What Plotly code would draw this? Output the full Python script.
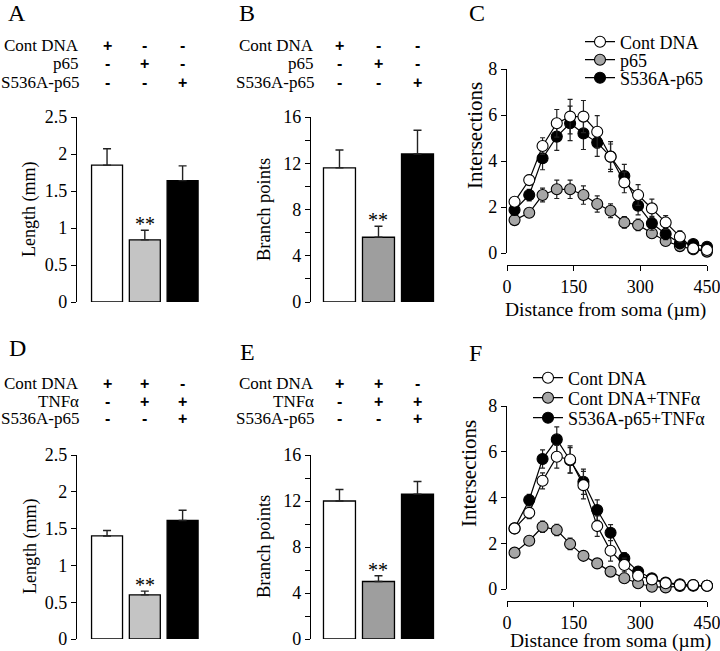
import plotly.graph_objects as go

W, H = 720, 651
SERIF = 'Liberation Serif, Times New Roman, serif'

# bar panels (A, B, D, E)
groups = [0, 1, 2]
length_p65 = [1.85, 0.84, 1.64]
length_p65_err = [0.22, 0.13, 0.20]
branch_p65 = [11.6, 5.6, 12.8]
branch_p65_err = [1.55, 0.95, 2.05]
length_tnf = [1.40, 0.60, 1.61]
length_tnf_err = [0.075, 0.05, 0.14]
branch_tnf = [12.0, 5.0, 12.6]
branch_tnf_err = [1.0, 0.5, 1.1]

# Sholl panels (C, F)
distance = [17, 50, 80, 112, 142, 172, 203, 233, 264, 295, 326, 357, 389, 419, 450]
c_cont = [2.23, 3.17, 4.65, 5.64, 5.93, 5.93, 5.27, 4.19, 3.07, 2.52, 1.94, 1.33, 0.71, 0.20, 0.13]
c_cont_err = [0.17, 0.22, 0.36, 0.6, 0.75, 0.7, 0.7, 0.55, 0.45, 0.45, 0.4, 0.3, 0.25, 0.15, 0.1]
c_p65 = [1.43, 1.75, 2.52, 2.77, 2.77, 2.52, 2.13, 1.84, 1.33, 1.22, 0.86, 0.52, 0.30, 0.16, 0.06]
c_p65_err = [0.1, 0.15, 0.3, 0.4, 0.4, 0.4, 0.35, 0.3, 0.25, 0.25, 0.2, 0.15, 0.1, 0.08, 0.05]
c_s536a = [1.87, 2.52, 4.12, 5.06, 5.64, 5.2, 4.8, 4.19, 3.35, 2.06, 1.29, 0.83, 0.42, 0.39, 0.27]
c_s536a_err = [0.2, 0.25, 0.5, 0.6, 0.75, 0.7, 0.6, 0.65, 0.5, 0.4, 0.3, 0.25, 0.2, 0.15, 0.1]

f_cont = [2.65, 3.33, 4.73, 5.78, 5.66, 4.54, 2.75, 1.67, 1.05, 0.58, 0.42, 0.25, 0.17, 0.17, 0.14]
f_cont_err = [0.1, 0.25, 0.35, 0.5, 0.6, 0.6, 0.45, 0.45, 0.3, 0.2, 0.15, 0.1, 0.08, 0.05, 0.05]
f_tnf = [1.59, 2.11, 2.72, 2.58, 1.97, 1.45, 1.12, 0.76, 0.47, 0.25, 0.10, 0.07, 0.13, 0.14, 0.14]
f_tnf_err = [0.08, 0.1, 0.25, 0.25, 0.25, 0.2, 0.2, 0.15, 0.1, 0.1, 0.05, 0.05, 0.05, 0.05, 0.05]
f_s536a = [2.65, 3.89, 5.68, 6.54, 5.63, 4.69, 3.45, 2.46, 1.34, 0.76, 0.47, 0.28, 0.21, 0.17, 0.14]
f_s536a_err = [0.1, 0.25, 0.4, 0.55, 0.55, 0.55, 0.45, 0.35, 0.25, 0.15, 0.1, 0.08, 0.05, 0.05, 0.05]

top_rows = ['Cont DNA', 'p65', 'S536A-p65']
top_signs = [['+', '-', '-'], ['-', '+', '-'], ['-', '-', '+']]
bottom_rows = ['Cont DNA', 'TNFα', 'S536A-p65']
bottom_signs = [['+', '+', '-'], ['-', '+', '+'], ['-', '-', '+']]


def px(v):
    return v / W


def py(v):
    return 1 - v / H


fig = go.Figure()

bar_panels = [
    ('x', 'y', length_p65, length_p65_err, '#c4c4c4'),
    ('x2', 'y2', branch_p65, branch_p65_err, '#9e9e9e'),
    ('x4', 'y4', length_tnf, length_tnf_err, '#c4c4c4'),
    ('x5', 'y5', branch_tnf, branch_tnf_err, '#9e9e9e'),
]
for xa, ya, vals, err, gray in bar_panels:
    fig.add_trace(go.Bar(
        x=groups, y=vals, width=0.82,
        marker=dict(color=['white', gray, 'black'], line=dict(color='black', width=1.3)),
        error_y=dict(type='data', array=err, arrayminus=[0, 0, 0], symmetric=False,
                     color='#222', thickness=1.4, width=4),
        xaxis=xa, yaxis=ya, showlegend=False
    ))


def sholl(xa, ya, y, err, color, name, legend):
    fig.add_trace(go.Scatter(
        x=distance, y=y, mode='lines+markers', name=name,
        line=dict(color='black', width=1.2),
        marker=dict(size=11, color=color, line=dict(color='black', width=1.1)),
        error_y=dict(type='data', array=err, color='#222', thickness=1.2, width=2.5),
        xaxis=xa, yaxis=ya, legend=legend, cliponaxis=False
    ))


sholl('x3', 'y3', c_p65, c_p65_err, '#a6a6a6', 'p65', 'legend2')
sholl('x3', 'y3', c_s536a, c_s536a_err, 'black', 'S536A-p65', 'legend3')
sholl('x3', 'y3', c_cont, c_cont_err, 'white', 'Cont DNA', 'legend')
sholl('x6', 'y6', f_tnf, f_tnf_err, '#a6a6a6', 'Cont DNA+TNFα', 'legend5')
sholl('x6', 'y6', f_s536a, f_s536a_err, 'black', 'S536A-p65+TNFα', 'legend6')
sholl('x6', 'y6', f_cont, f_cont_err, 'white', 'Cont DNA', 'legend4')

tickfont = dict(family=SERIF, size=18, color='black')
hidden_x = dict(showline=False, showticklabels=False, showgrid=False, zeroline=False,
                ticks='', automargin=False)
yax = dict(showline=True, linecolor='black', linewidth=1.2, ticks='outside', ticklen=5,
           tickcolor='black', tickwidth=1.2, tickfont=tickfont, showgrid=False,
           zeroline=False, automargin=False)

len_ticks = dict(range=[0, 2.5], tickvals=[0, 0.5, 1, 1.5, 2, 2.5],
                 ticktext=['0', '0.5', '1', '1.5', '2', '2.5'])
br_ticks = dict(range=[0, 16], tickvals=list(range(0, 17, 2)),
                ticktext=['0', '', '4', '', '8', '', '12', '', '16'])
int_ticks = dict(range=[0, 8], tickvals=[0, 2, 4, 6, 8])

top_y = [py(302), py(117)]
bot_y = [py(639), py(455)]
col1 = [px(77), px(203)]
col2 = [px(311), px(437)]
col3 = [px(507), px(707)]

xdist = dict(range=[0, 450], tickvals=[0, 150, 300, 450], showline=True, linecolor='black',
             linewidth=1.2, ticks='outside', ticklen=5, tickcolor='black', tickwidth=1.2,
             tickfont=tickfont, showgrid=False, zeroline=False, anchor='free',
             automargin=False, ticklabeloverflow='allow')


def leg(x, y):
    return dict(x=px(x), y=py(y), xanchor='left', yanchor='middle', bgcolor='rgba(0,0,0,0)',
                font=dict(family=SERIF, size=18, color='black'), borderwidth=0, itemwidth=30)


fig.update_layout(
    width=W, height=H, margin=dict(l=0, r=0, t=0, b=0, autoexpand=False),
    paper_bgcolor='white', plot_bgcolor='white',
    font=dict(family=SERIF, size=17, color='black'),
    xaxis=dict(domain=col1, range=[-0.795, 2.54], anchor='y', **hidden_x),
    yaxis=dict(domain=top_y, anchor='x', **len_ticks, **yax),
    xaxis2=dict(domain=col2, range=[-0.73, 2.5], anchor='y2', **hidden_x),
    yaxis2=dict(domain=top_y, anchor='x2', **br_ticks, **yax),
    xaxis3=dict(domain=col3, position=py(265), **xdist),
    yaxis3=dict(domain=[py(253), py(69)], anchor='x3', **int_ticks, **yax),
    xaxis4=dict(domain=col1, range=[-0.795, 2.54], anchor='y4', **hidden_x),
    yaxis4=dict(domain=bot_y, anchor='x4', **len_ticks, **yax),
    xaxis5=dict(domain=col2, range=[-0.73, 2.5], anchor='y5', **hidden_x),
    yaxis5=dict(domain=bot_y, anchor='x5', **br_ticks, **yax),
    xaxis6=dict(domain=col3, position=py(601), **xdist),
    yaxis6=dict(domain=[py(589), py(406)], anchor='x6', **int_ticks, **yax),
    legend=leg(580, 42), legend2=leg(580, 60), legend3=leg(580, 78),
    legend4=leg(528, 378), legend5=leg(528, 398), legend6=leg(528, 418),
)

ann = []
# panel letters
for letter, x, y in [('A', 17, 13), ('B', 247, 13), ('C', 477, 13),
                     ('D', 17, 348), ('E', 247, 352), ('F', 475, 353)]:
    ann.append(dict(text=letter, x=px(x), y=py(y), xref='paper', yref='paper',
                    xanchor='center', yanchor='middle', showarrow=False,
                    font=dict(family=SERIF, size=24)))

# treatment tables
for xa, right, rows, signs, ys in [('x', 81, top_rows, top_signs, [46, 64, 82]),
                                   ('x2', 316, top_rows, top_signs, [46, 64, 82]),
                                   ('x4', 81, bottom_rows, bottom_signs, [383, 401, 419]),
                                   ('x5', 316, bottom_rows, bottom_signs, [383, 401, 419])]:
    for label, row, y in zip(rows, signs, ys):
        ann.append(dict(text=label, x=px(right), y=py(y), xref='paper', yref='paper',
                        xanchor='right', yanchor='middle', showarrow=False,
                        font=dict(family=SERIF, size=17)))
        for g, s in zip(groups, row):
            ann.append(dict(text='<b>' + s + '</b>', x=g, y=py(y), xref=xa, yref='paper',
                            xanchor='center', yanchor='middle', showarrow=False,
                            font=dict(family='Liberation Sans, Arial', size=16)))

# axis titles
for text, x, y, size in [('Length (mm)', 30, 210, 18), ('Branch points', 264, 210, 18.5),
                         ('Intersections', 475, 136, 21), ('Length (mm)', 30, 547, 18),
                         ('Branch points', 264, 547, 18.5), ('Intersections', 469, 474, 21)]:
    ann.append(dict(text=text, x=px(x), y=py(y), xref='paper', yref='paper',
                    xanchor='center', yanchor='middle', textangle=-90, showarrow=False,
                    font=dict(family=SERIF, size=size)))
for x, y in [(605, 310), (610, 641)]:
    ann.append(dict(text='Distance from soma (µm)', x=px(x), y=py(y), xref='paper',
                    yref='paper', xanchor='center', yanchor='middle', showarrow=False,
                    font=dict(family=SERIF, size=19.5)))

# significance marks
for xa, ya, vals, err in [('x', 'y', length_p65, length_p65_err),
                          ('x2', 'y2', branch_p65, branch_p65_err),
                          ('x4', 'y4', length_tnf, length_tnf_err),
                          ('x5', 'y5', branch_tnf, branch_tnf_err)]:
    ann.append(dict(text='**', x=1, y=vals[1] + err[1], xref=xa, yref=ya,
                    xanchor='center', yanchor='bottom', yshift=-7, showarrow=False,
                    font=dict(family=SERIF, size=20)))

fig.update_layout(annotations=ann)

# drop the default page margin so the 720x651 figure fills the window exactly
fig.write_html("out.html", config={'displayModeBar': False},
               post_script="document.body.style.margin='0px';")
